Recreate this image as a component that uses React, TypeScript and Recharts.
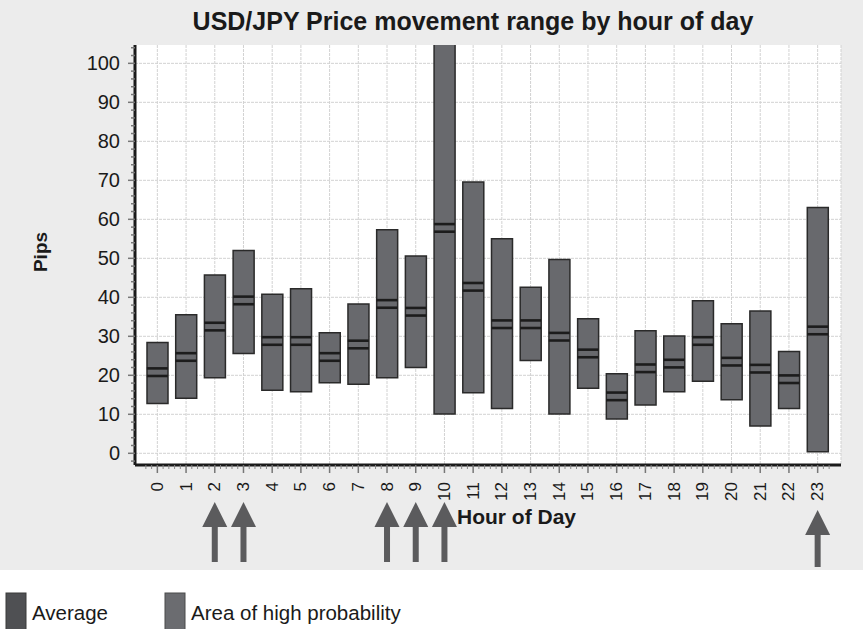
import * as React from "react"
import {
  ComposedChart,
  Bar,
  Scatter,
  XAxis,
  YAxis,
  CartesianGrid,
} from "recharts"

// Hours of the day (categories)
const hours = [
  "0", "1", "2", "3", "4", "5", "6", "7", "8", "9", "10", "11",
  "12", "13", "14", "15", "16", "17", "18", "19", "20", "21", "22", "23",
]

// Bottom of the high-probability range (pips)
const lowValues = [
  12.8, 14.1, 19.4, 25.6, 16.2, 15.8, 18.1, 17.7, 19.4, 22.0, 10.1, 15.5,
  11.5, 23.8, 10.1, 16.7, 8.8, 12.4, 15.8, 18.5, 13.7, 7.0, 11.5, 0.4,
]

// Top of the high-probability range (pips); hour 10 runs off the chart
const highValues = [
  28.4, 35.5, 45.7, 52.0, 40.8, 42.2, 30.9, 38.3, 57.3, 50.6, 106, 69.6,
  55.0, 42.6, 49.7, 34.5, 20.4, 31.4, 30.1, 39.1, 33.2, 36.5, 26.1, 63.0,
]

// Average movement (pips)
const avgValues = [
  20.8, 24.7, 32.5, 39.2, 28.8, 28.8, 24.7, 27.9, 38.3, 36.3, 57.8, 42.7,
  33.1, 33.1, 29.9, 25.6, 14.6, 21.8, 23.0, 28.8, 23.5, 21.7, 19.0, 31.5,
]

// Hours marked with arrows under the axis
const arrowHours = ["2", "3", "8", "9", "10", "23"]

// Y axis labels
const yTickLabels = [0, 10, 20, 30, 40, 50, 60, 70, 80, 90, 100]

const Y_DOMAIN: [number, number] = [-3, 104.7]
const BAR_SIZE = 21
const FONT = "'Liberation Sans', Arial, Helvetica, sans-serif"

const data = hours.map((hour, i) => ({
  hour,
  range: [lowValues[i], highValues[i]],
  avg: avgValues[i],
}))

// minor ticks every 2 pips between the labelled ones
const yTicks: number[] = [-2]
yTickLabels.forEach((v) => {
  yTicks.push(v)
  if (v < 100) [2, 4, 6, 8].forEach((s) => yTicks.push(v + s))
  else [2, 4].forEach((s) => yTicks.push(v + s))
})

function YTick(props: any) {
  const { x, y, payload } = props
  const major = payload.value % 10 === 0
  return (
    <g>
      <line x1={x - (major ? 7 : 4)} x2={x} y1={y} y2={y} stroke="#777" strokeWidth={1.5} />
      {major && payload.value >= 0 && (
        <text
          x={x - 15}
          y={y + 7}
          textAnchor="end"
          fontFamily={FONT}
          fontSize={20}
          fill="#1a1a1a"
        >
          {payload.value}
        </text>
      )}
    </g>
  )
}

function XTick(props: any) {
  const { x, y, payload } = props
  const band = payload.offset ? payload.offset * 2 : 28.7
  const step = band / 5
  const hasArrow = arrowHours.includes(String(payload.value))
  const low = payload.value === "23"
  const headTop = low ? 510 : 502
  const bottom = low ? 567 : 562
  return (
    <g>
      <line x1={x} x2={x} y1={y} y2={y + 8} stroke="#777" strokeWidth={1.5} />
      {[-2, -1, 1, 2].map((k) => (
        <line
          key={k}
          x1={x + k * step}
          x2={x + k * step}
          y1={y}
          y2={y + 4}
          stroke="#888"
          strokeWidth={1}
        />
      ))}
      <text
        x={x}
        y={y + 17}
        transform={`rotate(-90, ${x}, ${y + 17})`}
        textAnchor="end"
        dominantBaseline="central"
        fontFamily={FONT}
        fontSize={17}
        fill="#1a1a1a"
      >
        {payload.value}
      </text>
      {hasArrow && (
        <g fill="#5b5b5d">
          <polygon points={`${x},${headTop} ${x - 12.5},${headTop + 25} ${x + 12.5},${headTop + 25}`} />
          <rect x={x - 3} y={headTop + 24} width={6} height={bottom - headTop - 24} />
        </g>
      )}
    </g>
  )
}

function AvgMarker(props: any) {
  const { cx, cy } = props
  if (cx == null || cy == null) return null
  const half = BAR_SIZE / 2
  return (
    <g>
      <line x1={cx - half} x2={cx + half} y1={cy - 3.8} y2={cy - 3.8} stroke="#1c1c1c" strokeWidth={2.6} />
      <line x1={cx - half} x2={cx + half} y1={cy + 3.8} y2={cy + 3.8} stroke="#1c1c1c" strokeWidth={2.6} />
    </g>
  )
}

export default function App() {
  return (
    <div
      style={{
        position: "absolute",
        left: 0,
        top: 0,
        width: 863,
        height: 629,
        background: "#ffffff",
        overflow: "hidden",
      }}
    >
      <div style={{ position: "absolute", left: 0, top: 0, width: 863, height: 570, background: "#ececec" }}>
        <ComposedChart
          width={863}
          height={570}
          data={data}
          margin={{ top: 45, right: 22, left: 0, bottom: 0 }}
        >
          <CartesianGrid
            fill="#ffffff"
            stroke="#d2d2d2"
            strokeDasharray="3 1"
            horizontalValues={yTickLabels}
          />
          <XAxis
            dataKey="hour"
            type="category"
            height={105}
            padding={{ left: 8, right: 9 }}
            interval={0}
            tickSize={0}
            tickMargin={0}
            tickLine={false}
            axisLine={{ stroke: "#1a1a1a", strokeWidth: 3 }}
            tick={<XTick />}
          />
          <XAxis
            xAxisId="top"
            dataKey="hour"
            orientation="top"
            height={0}
            tick={false}
            tickLine={false}
            axisLine={{ stroke: "#444", strokeWidth: 2 }}
          />
          <YAxis
            type="number"
            width={135}
            domain={Y_DOMAIN}
            allowDataOverflow
            ticks={yTicks}
            interval={0}
            tickSize={0}
            tickMargin={0}
            tickLine={false}
            axisLine={{ stroke: "#1a1a1a", strokeWidth: 3 }}
            tick={<YTick />}
          />
          <YAxis
            yAxisId="right"
            orientation="right"
            type="number"
            width={0}
            domain={Y_DOMAIN}
            tick={false}
            tickLine={false}
            axisLine={{ stroke: "#444", strokeWidth: 2 }}
          />
          <Bar
            dataKey="range"
            barSize={BAR_SIZE}
            fill="#68696d"
            stroke="#2a2a2a"
            strokeWidth={1.5}
            isAnimationActive={false}
          />
          <Scatter dataKey="avg" shape={<AvgMarker />} isAnimationActive={false} />
        </ComposedChart>
      </div>
      <svg
        width={863}
        height={629}
        style={{ position: "absolute", left: 0, top: 0, pointerEvents: "none" }}
      >
        <text x={473} y={30} textAnchor="middle" fontFamily={FONT} fontWeight="bold" fontSize={25} fill="#1a1a1a">
          USD/JPY Price movement range by hour of day
        </text>
        <text
          x={47}
          y={252}
          transform="rotate(-90, 47, 252)"
          textAnchor="middle"
          fontFamily={FONT}
          fontWeight="bold"
          fontSize={19}
          fill="#1a1a1a"
        >
          Pips
        </text>
        <text x={457} y={524} fontFamily={FONT} fontWeight="bold" fontSize={21} fill="#1a1a1a">
          Hour of Day
        </text>
        <rect x={6} y={593} width={20} height={40} fill="#4f5053" stroke="#3a3a3a" />
        <text x={32} y={620} fontFamily={FONT} fontSize={20.5} fill="#1a1a1a">
          Average
        </text>
        <rect x={165} y={593} width={20} height={40} fill="#6b6c70" stroke="#4a4a4a" />
        <text x={191} y={620} fontFamily={FONT} fontSize={20.5} fill="#1a1a1a">
          Area of high probability
        </text>
      </svg>
    </div>
  )
}
